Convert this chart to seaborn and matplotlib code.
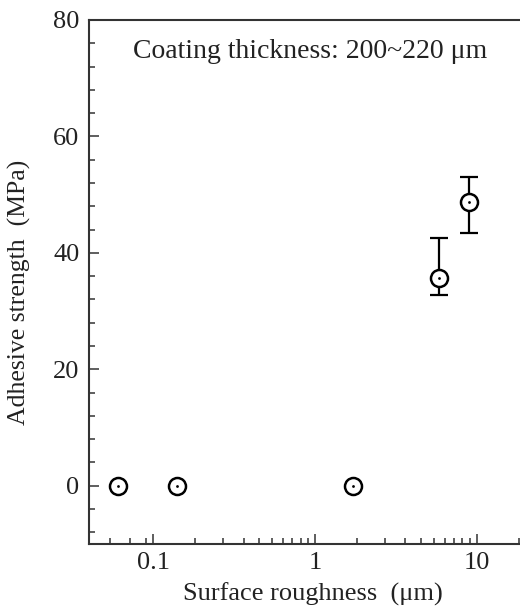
import numpy as np
import pandas as pd
import matplotlib
matplotlib.use("Agg")
import matplotlib.pyplot as plt
import seaborn as sns
from matplotlib.ticker import FixedLocator, NullFormatter, FixedFormatter

# ---- data ----
roughness = [0.06, 0.14, 1.7, 5.8, 8.9]          # surface roughness (um)
strength = [0.0, 0.0, 0.0, 35.7, 48.8]           # adhesive strength (MPa)
err_low = [0.0, 0.0, 0.0, 3.0, 5.4]
err_high = [0.0, 0.0, 0.0, 6.9, 4.2]
x_major = [0.1, 1, 10]
x_major_labels = ["0.1", "1", "10"]
y_major = [0, 20, 40, 60, 80]

df = pd.DataFrame({"roughness": roughness, "strength": strength})

sns.set_theme(style="ticks")
plt.rcParams["font.family"] = ["Liberation Serif", "DejaVu Serif"]

fig = plt.figure(figsize=(5.2, 6.11), dpi=100)
ax = fig.add_axes([0.1712, 0.1097, 1.0115 - 0.1712, 0.9673 - 0.1097])

# error bars (only the last two points have them)
ax.errorbar(roughness[3:], strength[3:],
            yerr=[err_low[3:], err_high[3:]],
            fmt="none", ecolor="black", elinewidth=1.6,
            capsize=6.8, capthick=1.6, zorder=2)

# open circles with a center dot
sns.scatterplot(data=df, x="roughness", y="strength", ax=ax,
                marker="o", s=150, facecolor="white",
                edgecolor="black", linewidth=1.8, zorder=3)
sns.scatterplot(data=df, x="roughness", y="strength", ax=ax,
                marker="o", s=4, color="black", linewidth=0, zorder=4)

ax.set_xscale("log")
ax.set_xlim(0.04, 20)
ax.set_ylim(-10, 80)

ax.xaxis.set_major_locator(FixedLocator(x_major))
ax.xaxis.set_major_formatter(FixedFormatter(x_major_labels))
minor_x = [0.054, 0.072, 0.09] + [0.09 * k for k in range(2, 11)] + \
          [0.9 * k for k in range(2, 11)] + [18]
ax.xaxis.set_minor_locator(FixedLocator(minor_x))
ax.xaxis.set_minor_formatter(NullFormatter())

ax.yaxis.set_major_locator(FixedLocator(y_major))
ax.yaxis.set_minor_locator(FixedLocator([v for v in range(-8, 80, 4) if v % 20 != 0]))

ax.tick_params(axis="both", which="major", direction="in", length=7,
               width=1.1, labelsize=19, color="#333333", labelcolor="#222222")
ax.tick_params(axis="both", which="minor", direction="in", length=4,
               width=1.1, color="#333333")
ax.tick_params(axis="y", which="major", pad=7)
ax.tick_params(axis="x", which="major", pad=6)

for side in ["left", "bottom", "top"]:
    ax.spines[side].set_linewidth(1.5)
    ax.spines[side].set_color("#333333")
ax.spines["right"].set_visible(False)

ax.set_xlabel("Surface roughness  (\u03bcm)", fontsize=19, color="#222222")
ax.xaxis.set_label_coords((313 - 89) / (526 - 89), -(583 - 544) / 524)
ax.set_ylabel("Adhesive strength  (MPa)", fontsize=18.5, color="#222222")
ax.yaxis.set_label_coords(-(89 - 31) / (526 - 89), (544 - 292) / 524)

ax.text(0.10, 0.939, "Coating thickness: 200~220 \u03bcm", transform=ax.transAxes,
        fontsize=20, ha="left", va="center", color="#222222")

fig.savefig("out.png", dpi=100)
